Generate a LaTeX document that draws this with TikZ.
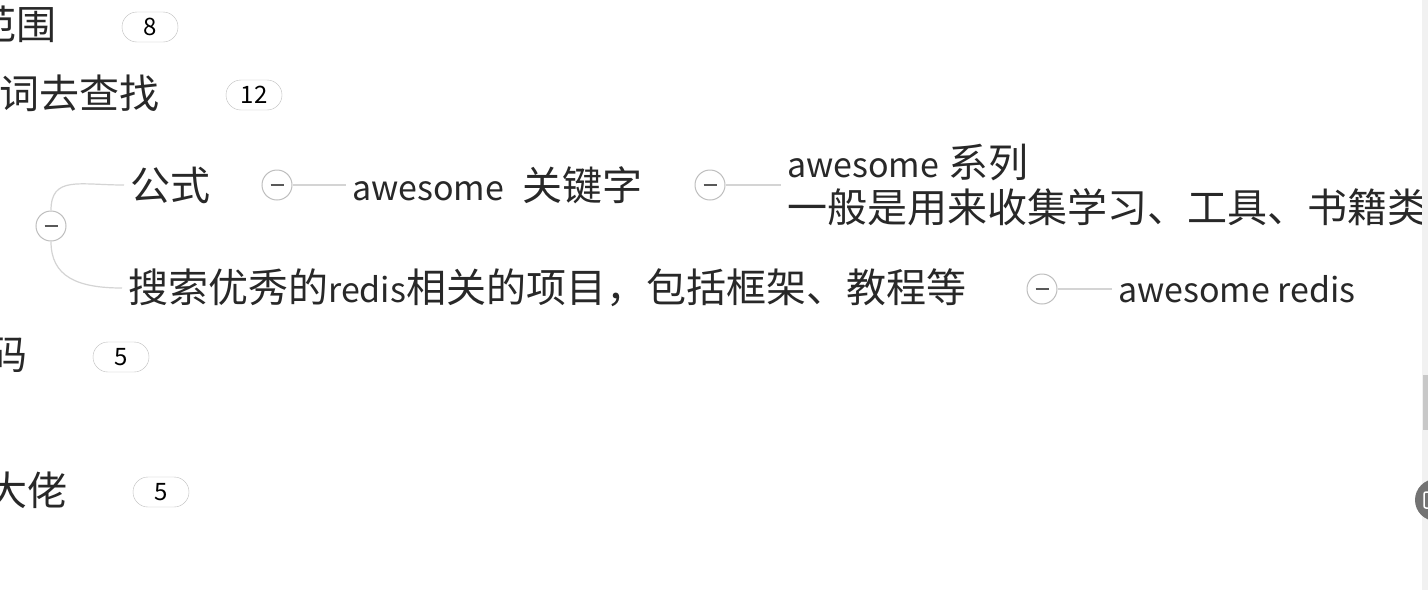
\documentclass[tikz,border=0pt]{standalone}
\usepackage{fontspec}
\setmainfont{Noto Sans CJK SC}
\usepackage{tikz}
\usetikzlibrary{positioning}
\definecolor{mapText}{RGB}{40,40,40}
\definecolor{mapLine}{RGB}{212,212,212}
\definecolor{mapRing}{RGB}{190,190,190}
\definecolor{mapBar}{RGB}{241,241,241}
\definecolor{mapThumb}{RGB}{200,200,200}
% Latin words are set a little smaller than the CJK ones
\newcommand{\lat}[1]{{\fontsize{34}{45}\selectfont #1}}

\begin{document}
\begin{tikzpicture}[x=1pt, y=-1pt,
  topic/.style={inner xsep=6pt, inner ysep=0pt, text=mapText, font=\fontsize{40}{45}\selectfont},
  badge/.style={draw=mapRing, fill=white, rounded corners=15pt, minimum width=56pt,
    minimum height=30pt, inner sep=0pt, font=\fontsize{24}{24}\selectfont, text=black},
  fold/.style={circle, draw=mapRing, line width=1pt, fill=white, minimum size=30pt, inner sep=0pt,
    path picture={\draw[black!65, line width=1.4pt]
      ([xshift=-6.5pt]path picture bounding box.center) --
      ([xshift=6.5pt]path picture bounding box.center);}},
  link/.style={draw=mapLine, line width=1.2pt}]

% Frame
\useasboundingbox (0,0) rectangle (1428,590);
\clip (0,0) rectangle (1428,590);
\fill[white] (0,0) rectangle (1428,590);

% Topics cut at the left edge, with their counters
\node[topic, anchor=east] (fanwei) at (63,24)  {范围};
\node[badge]              (cnt8)   at (150,27) {8};
\node[topic, anchor=east] (chazhao) at (166,93) {词去查找};
\node[badge]              (cnt12)  at (254,95) {12};
\node[topic, anchor=east] (ma)     at (34,355) {码};
\node[badge]              (cnt5a)  at (121,357) {5};
\node[topic, anchor=east] (dalao)  at (74,490) {大佬};
\node[badge]              (cnt5b)  at (161,492) {5};

% Open branch
\node[fold] (fold0) at (51,226) {};
\node[topic, anchor=west] (gongshi) at (124,185) {公式};
\node[topic, anchor=west] (sousuo)  at (122,288) {搜索优秀的\lat{redis}相关的项目，包括框架、教程等};

\draw[link] (fold0.north) .. controls +(0,-35) and +(-45,0) .. (gongshi.west);
\draw[link] (fold0.south) .. controls +(0,35) and +(-45,0) .. (sousuo.west);

% Row 1
\node[fold] (fold1) at (277,185) {};
\node[topic, anchor=west] (keyword) at (346,185) {\lat{awesome}\ \ 关键字};
\draw[link] (fold1.east) -- (keyword.west);

\node[fold] (fold2) at (710,185) {};
\node[topic, anchor=west, align=left] (series) at (781,185)
  {\lat{awesome} 系列\\一般是用来收集学习、工具、书籍类};
\draw[link] (fold2.east) -- (series.west);

% Row 2
\node[fold] (fold3) at (1042,289) {};
\node[topic, anchor=west] (awredis) at (1112,289) {\lat{awesome redis}};
\draw[link] (fold3.east) -- (awredis.west);

% Scroll bar and corner button
\fill[mapBar]   (1422,0) rectangle (1428,590);
\fill[mapThumb] (1423,375) rectangle (1428,430);
\fill[black!55] (1436,500) circle (21);
\draw[white, line width=1.5pt, rounded corners=2pt] (1424,492) rectangle (1434,508);

\end{tikzpicture}
\end{document}
